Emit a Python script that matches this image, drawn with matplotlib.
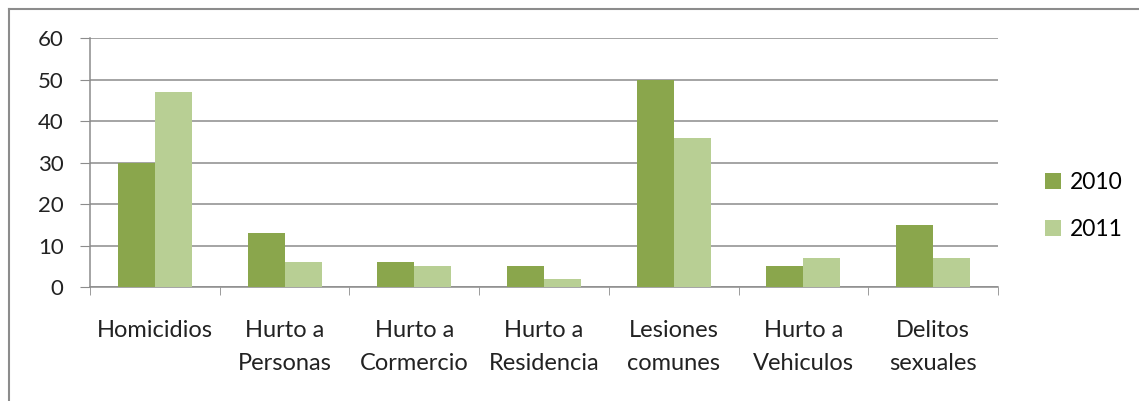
import numpy as np
import matplotlib
matplotlib.use("Agg")
from matplotlib import pyplot as plt
from matplotlib.lines import Line2D

categorias = ['Homicidios', 'Hurto a\nPersonas', 'Hurto a\nCormercio', 'Hurto a\nResidencia',
              'Lesiones\ncomunes', 'Hurto a\nVehiculos', 'Delitos\nsexuales']
valores_2010 = [30, 13, 6, 5, 50, 5, 15]
valores_2011 = [47, 6, 5, 2, 36, 7, 7]

plt.rcParams['font.family'] = ['Lato', 'DejaVu Sans']

fig = plt.figure(figsize=(11.39, 4.01), dpi=100)
ax = fig.add_axes([90/1139, 1-287/401, (998-90)/1139, (287-38)/401])

x = np.arange(len(categorias))
w = 1/3.5
ax.bar(x - w/2, valores_2010, w, color='#8aa64c', label='2010', zorder=3)
ax.bar(x + w/2, valores_2011, w, color='#b8cf94', label='2011', zorder=3)

ax.set_xlim(-0.5, len(categorias) - 0.5)
ax.set_ylim(0, 60)
ax.set_yticks(range(0, 61, 10))
ax.yaxis.grid(True, color='#8c8c8c', linewidth=1.1, zorder=0)
ax.tick_params(axis='y', length=7, color='#8c8c8c', labelsize=16, pad=12, labelcolor='#222222')

ax.set_xticks(x)
ax.set_xticklabels(categorias, fontsize=17, linespacing=1.7, color='#222222')
ax.tick_params(axis='x', length=0, pad=24)
ax.set_xticks(np.arange(-0.5, len(categorias)), minor=True)
ax.tick_params(axis='x', which='minor', length=6, color='#8c8c8c', direction='out')

for s in ['top', 'right']:
    ax.spines[s].set_visible(False)
for s in ['left', 'bottom']:
    ax.spines[s].set_color('#8c8c8c')
    ax.spines[s].set_linewidth(1.1)

leg = fig.legend(loc='center left', bbox_to_anchor=(1024/1139, 1-206/401), frameon=False,
                 fontsize=16.5, handlelength=0.7, handleheight=0.7, handletextpad=0.4,
                 labelspacing=1.1)

# marco del grafico
fig.add_artist(Line2D([9/1139, 1], [1-9/401, 1-9/401], color='#8c8c8c', linewidth=1.5))
fig.add_artist(Line2D([9/1139, 9/1139], [0, 1-9/401], color='#8c8c8c', linewidth=1.5))

fig.savefig('out.png', dpi=100)
